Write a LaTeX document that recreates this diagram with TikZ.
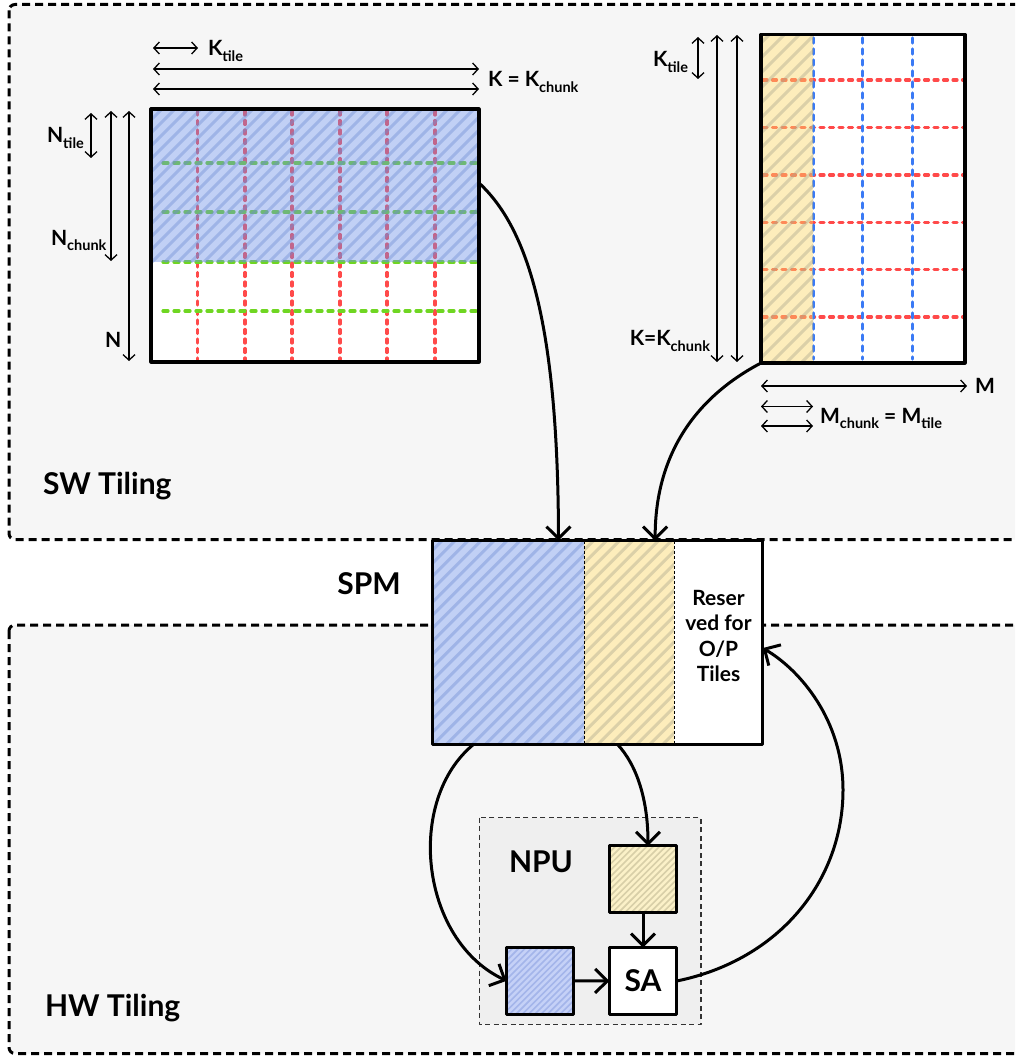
\documentclass[tikz,border=0pt]{standalone}
\usepackage{fontspec}
\setmainfont{Lato}
\usetikzlibrary{arrows.meta,calc}

\definecolor{boxbg}{HTML}{F6F6F6}
\definecolor{npubg}{HTML}{EFEFEF}
\definecolor{gridred}{HTML}{FF4A4A}
\definecolor{gridgreen}{HTML}{6FD622}
\definecolor{gridblue}{HTML}{3A7AF5}
\definecolor{blueov}{RGB}{109,143,232}
\definecolor{yellowov}{RGB}{252,217,106}
\definecolor{stripeblue}{RGB}{110,140,210}
\definecolor{stripeyellow}{RGB}{170,165,140}
\definecolor{bluesq}{HTML}{C5D1F7}
\definecolor{yellowsq}{HTML}{FBF1C8}
\definecolor{bluesqline}{HTML}{A4B5EA}
\definecolor{yellowsqline}{HTML}{D8CFA8}

% lowered, smaller index text
\newcommand\lo[1]{\raisebox{-5.5pt}{\fontsize{14.5}{15}\selectfont #1}}

% diagonal hatching clipped to a rectangle: x1, y1, x2, y2, spacing, style
\newcommand\stripes[6]{%
  \begin{scope}
    \clip (#1,#2) rectangle (#3,#4);
    \foreach \s in {0,#5,...,700}
      \draw[#6] ({#1-350+\s},#4) -- ++(420,-420);
  \end{scope}}

\begin{document}
\begin{tikzpicture}[x=1pt,y=-1pt,line join=round,
  every node/.style={inner sep=0pt,outer sep=0pt},
  big/.style={font=\fontsize{30}{36}\selectfont\bfseries},
  mid/.style={font=\fontsize{21}{25.3}\selectfont\bfseries},
  region/.style={draw=black,line width=3pt,dash pattern=on 8pt off 5pt,fill=boxbg,rounded corners=6pt},
  dim/.style={{Straight Barb[length=5.5pt,width=12pt]}-{Straight Barb[length=5.5pt,width=12pt]},line width=1.3pt},
  flow/.style={-{Straight Barb[length=12pt,width=24pt]},line width=3pt},
  gridR/.style={draw=gridred,line width=3.2pt,line cap=round,dash pattern=on 4pt off 5.5pt},
  gridG/.style={draw=gridgreen,line width=3.2pt,line cap=round,dash pattern=on 5pt off 6pt},
  gridB/.style={draw=gridblue,line width=3.2pt,line cap=round,dash pattern=on 5pt off 6pt},
  stripeB/.style={draw=stripeblue,line width=3pt,draw opacity=.4},
  stripeY/.style={draw=stripeyellow,line width=3pt,draw opacity=.4},
  stripeBs/.style={draw=bluesqline,line width=1.6pt},
  stripeYs/.style={draw=yellowsqline,line width=1.6pt},
  frame/.style={draw=black,line width=3.2pt},
  divider/.style={draw=black,line width=1pt,dash pattern=on 3pt off 2pt},
  blank/.style={fill=white}]

\path[use as bounding box] (0,0) rectangle (1015,1059);
\clip (0,0) rectangle (1015,1059);
\fill[white] (0,0) rectangle (1015,1059);

% ---- the two tiling regions ----
\draw[region] (9,4.5) rectangle (1045,539.5);
\draw[region] (9,625) rectangle (1045,1053.5);
\node[big,anchor=base west] (swl) at (43,494) {SW Tiling};
\node[big,anchor=base west] (hwl) at (45,1016) {HW Tiling};

% ---- left operand: N x K ----
\node[blank,minimum width=328pt,minimum height=253pt] (lmat) at (315,235.5) {};
\foreach \x in {197.5,245,292,340,387,435}
  \draw[gridR] (\x,111) -- (\x,360);
\foreach \y in {163,212,262,311}
  \draw[gridG] (163,\y) -- (477,\y);
\fill[blueov,fill opacity=.42] (151,109) rectangle (479,262);
\stripes{151}{109}{479}{262}{13}{stripeB}
\draw[frame] (lmat.north west) rectangle (lmat.south east);

\draw[dim] (153,48) -- (198,48);
\node[mid,anchor=base west] (ktile1) at (208,56) {K\lo{tile}};
\draw[dim] (153,69) -- (479,69);
\draw[dim] (153,89) -- (479,89);
\node[mid,anchor=base west] (kchunk1) at (488,86.7) {K = K\lo{chunk}};

\draw[dim] (91,113) -- (91,158);
\node[mid,anchor=base west] (ntile) at (47,143) {N\lo{tile}};
\draw[dim] (111,111) -- (111,261);
\node[mid,anchor=base west] (nchunk) at (51,245) {N\lo{chunk}};
\draw[dim] (129,111) -- (129,361);
\node[mid,anchor=base west] (nfull) at (105,347) {N};

% ---- right operand: K x M ----
\node[blank,minimum width=204pt,minimum height=328.5pt] (rmat) at (863,198.75) {};
\foreach \y in {80,127.3,175,222.3,269.7,317}
  \draw[gridR] (763,\y) -- (963,\y);
\foreach \x in {813.3,862.7,912.3}
  \draw[gridB] (\x,38) -- (\x,359);
\fill[yellowov,fill opacity=.45] (761,34.5) rectangle (813.3,363);
\stripes{761}{34.5}{813.3}{363}{15}{stripeY}
\draw[frame] (rmat.north west) rectangle (rmat.south east);

\draw[dim] (698,37) -- (698,79);
\node[mid,anchor=base west] (ktile2) at (653,66.7) {K\lo{tile}};
\draw[dim] (717,35) -- (717,362);
\draw[dim] (737,35) -- (737,362);
\node[mid,anchor=base east] (kchunk2) at (710,345.7) {K=K\lo{chunk}};
\draw[dim] (761,386) -- (967,386);
\node[mid,anchor=base west] (mfull) at (975,393) {M};
\draw[dim] (761,406.5) -- (813,406.5);
\draw[dim] (761,426) -- (813,426);
\node[mid,anchor=base west] (mchunk) at (820,423) {M\lo{chunk} = M\lo{tile}};

% ---- scratchpad memory ----
\node[big] (spml) at (369,584) {SPM};
\node[blank,minimum width=151.6pt,minimum height=203.3pt] (spmA) at (508.5,642.35) {};
\node[blank,minimum width=89.7pt,minimum height=203.3pt] (spmB) at (629.15,642.35) {};
\node[blank,minimum width=88.7pt,minimum height=203.3pt] (spmC) at (718.35,642.35) {};
\fill[blueov,fill opacity=.42] (spmA.north west) rectangle (spmA.south east);
\stripes{432.7}{540.7}{584.3}{744}{13}{stripeB}
\fill[yellowov,fill opacity=.45] (spmB.north west) rectangle (spmB.south east);
\stripes{584.3}{540.7}{674}{744}{13}{stripeY}
\draw[divider] (spmA.north east) -- (spmA.south east);
\draw[divider] (spmB.north east) -- (spmB.south east);
\draw[frame,line width=3pt] (spmA.north west) rectangle (spmC.south east);
\node[mid,align=center] (resv) at (718.5,636) {Reser\\ved for\\O/P\\Tiles};

% ---- NPU ----
\draw[fill=npubg,draw=black!80,line width=1.3pt,dash pattern=on 5pt off 3.5pt]
  (479.3,817.7) rectangle (701,1024.3);
\node[big] (npul) at (541,862) {NPU};
\node[fill=yellowsq,minimum width=67.4pt,minimum height=66.7pt] (ysq) at (643,879.3) {};
\stripes{609.3}{846}{676.7}{912.7}{6.3}{stripeYs}
\draw[line width=3pt] (ysq.north west) rectangle (ysq.south east);
\node[fill=bluesq,minimum width=67.3pt,minimum height=67pt] (bsq) at (540.3,980.8) {};
\stripes{506.7}{947.3}{574}{1014.3}{6.3}{stripeBs}
\draw[line width=3pt] (bsq.north west) rectangle (bsq.south east);
\node[big,draw,fill=white,line width=3pt,minimum width=67.4pt,minimum height=66.6pt] (sa) at (643,981) {SA};

% ---- data movement ----
\draw[flow] ([yshift=-74pt]lmat.north east) .. controls (530,230) and (558,330) .. ([xshift=50pt]spmA.north);
\draw[flow] (rmat.south west) .. controls (700,395) and (655,450) .. ([xshift=26pt]spmB.north);
\draw[flow] ([xshift=-34.5pt]spmA.south) .. controls (405,800) and (420,940) .. (bsq.west);
\draw[flow] ([xshift=-12pt]spmB.south) .. controls (637,765) and (648,800) .. ([xshift=5pt]ysq.north);
\draw[flow] (bsq.east) -- (sa.west);
\draw[flow] (ysq.south) -- (sa.north);
\draw[flow] (sa.east) .. controls (780,960) and (843,880) .. (843,790)
  .. controls (843,720) and (800,670) .. ([yshift=-5.7pt]spmC.east);
\end{tikzpicture}
\end{document}
